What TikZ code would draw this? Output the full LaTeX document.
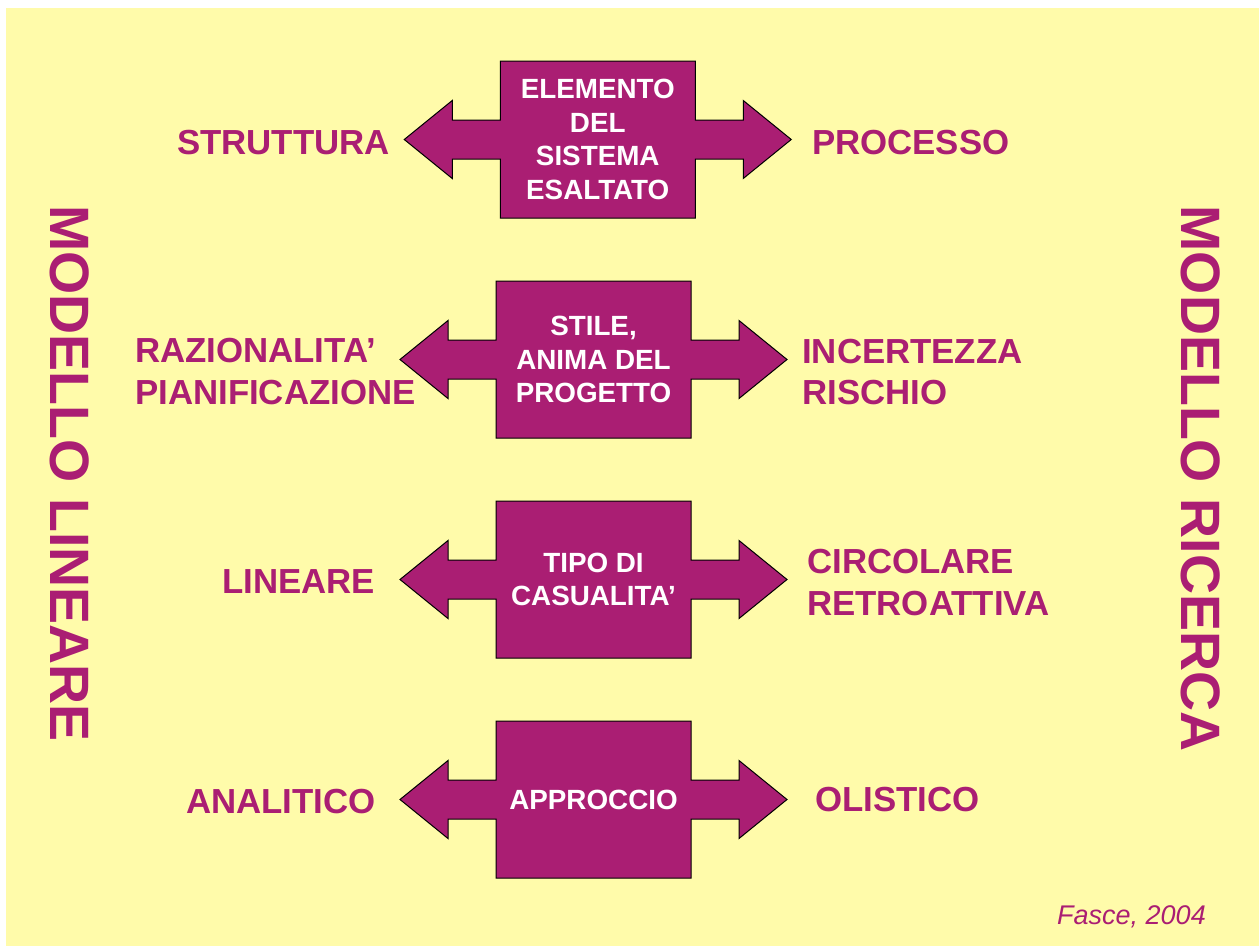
\documentclass[tikz,border=0pt]{standalone}
\usepackage{fontspec}
\setmainfont{Liberation Sans}
\usetikzlibrary{calc}
\definecolor{purp}{RGB}{170,30,115}
\definecolor{bgyel}{RGB}{255,251,170}
\newcommand\bidir[1]{%
 \path[arrowshape] ([shift={(-97.5,-78.5)}]#1.center) -- ([shift={(97.5,-78.5)}]#1.center)
  -- ([shift={(97.5,-19.5)}]#1.center) -- ([shift={(145.5,-19.5)}]#1.center)
  -- ([shift={(145.5,-39)}]#1.center) -- ([shift={(193.5,0)}]#1.center)
  -- ([shift={(145.5,39)}]#1.center) -- ([shift={(145.5,19.5)}]#1.center)
  -- ([shift={(97.5,19.5)}]#1.center) -- ([shift={(97.5,78.5)}]#1.center)
  -- ([shift={(-97.5,78.5)}]#1.center) -- ([shift={(-97.5,19.5)}]#1.center)
  -- ([shift={(-145.5,19.5)}]#1.center) -- ([shift={(-145.5,39)}]#1.center)
  -- ([shift={(-193.5,0)}]#1.center) -- ([shift={(-145.5,-39)}]#1.center)
  -- ([shift={(-145.5,-19.5)}]#1.center) -- ([shift={(-97.5,-19.5)}]#1.center) -- cycle;}
\begin{document}
\begin{tikzpicture}[x=1pt,y=-1pt,
  arrowshape/.style={fill=purp,draw=black,line width=1pt,line join=miter},
  boxtext/.style={text=white,font=\fontsize{27.8}{33.8}\selectfont\bfseries,align=center,inner sep=0pt},
  sidelab/.style={text=purp,font=\fontsize{34.8}{41.5}\selectfont\bfseries,align=left,inner sep=0pt},
  vlab/.style={text=purp,font=\fontsize{55.5}{60}\selectfont\bfseries,inner sep=0pt,rotate=-90}]
\useasboundingbox (0,0) rectangle (1259,946);
\fill[white] (0,0) rectangle (1259,946);
\fill[bgyel] (6,8) rectangle (1259,946);
% centres
\coordinate (c1) at (597.75,139.5);
\coordinate (c2) at (593.5,359.5);
\coordinate (c3) at (593.5,579.5);
\coordinate (c4) at (593.5,799.5);
\bidir{c1}
\bidir{c2}
\bidir{c3}
\bidir{c4}
\node[boxtext] (b1) at (c1) {ELEMENTO\\DEL\\SISTEMA\\ESALTATO};
\node[boxtext] (b2) at (c2) {STILE,\\ANIMA DEL\\PROGETTO};
\node[boxtext] (b3) at (c3) {TIPO DI\\CASUALITA’};
\node[boxtext] (b4) at (c4) {APPROCCIO};
% side labels
\node[sidelab,anchor=base west] (l1) at (177,154.3) {STRUTTURA};
\node[sidelab,anchor=base west] (r1) at (812,154.3) {PROCESSO};
\node[sidelab,anchor=north west] (l2) at (135,338) {RAZIONALITA’\\PIANIFICAZIONE};
\node[sidelab,anchor=north west] (r2) at (802,338.5) {INCERTEZZA\\RISCHIO};
\node[sidelab,anchor=base west] (l3) at (222,593) {LINEARE};
\node[sidelab,anchor=north west] (r3) at (807,549) {CIRCOLARE\\RETROATTIVA};
\node[sidelab,anchor=base west] (l4) at (186,813) {ANALITICO};
\node[sidelab,anchor=base west] (r4) at (815,811) {OLISTICO};
% vertical labels
\node[vlab] (ml) at (70,473.5) {MODELLO LINEARE};
\node[vlab] (mr) at (1201,478.5) {MODELLO RICERCA};
% credit
\node[text=purp,font=\fontsize{27}{30}\selectfont\itshape,anchor=base west,inner sep=0pt] (cr) at (1057,924) {Fasce, 2004};
\end{tikzpicture}
\end{document}
